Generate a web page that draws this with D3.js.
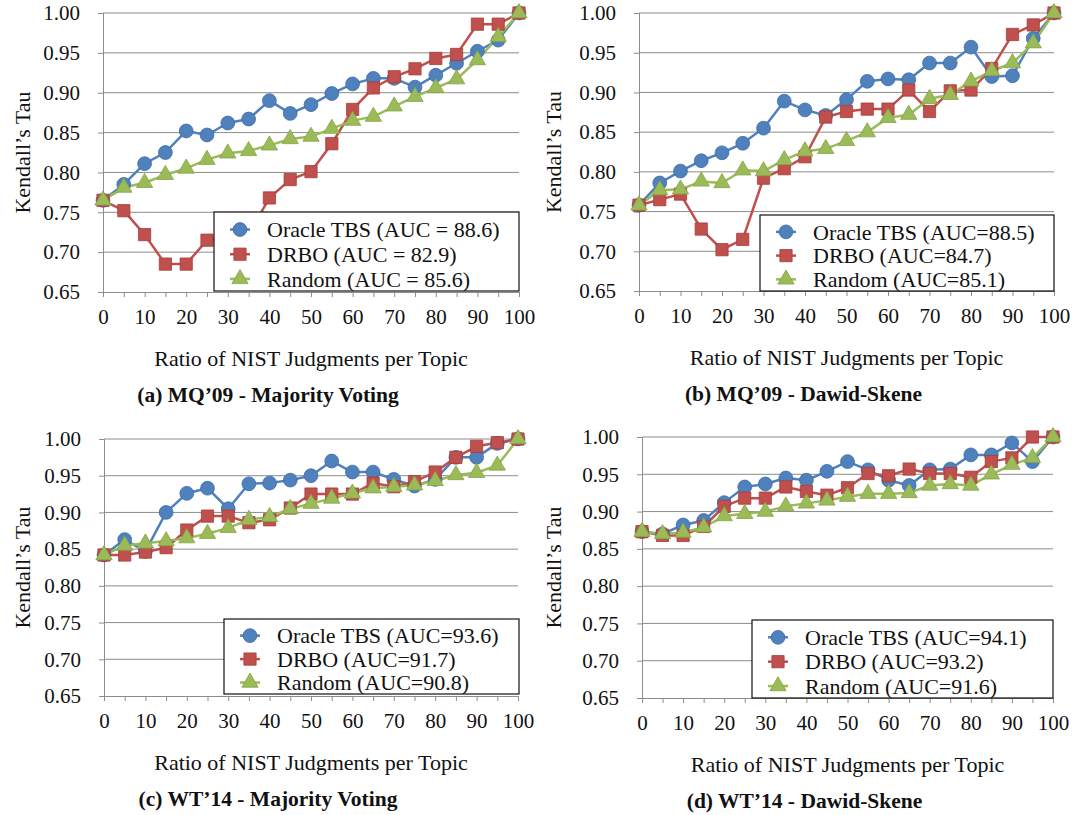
<!DOCTYPE html>
<html>
<head>
<meta charset="utf-8">
<script src="https://cdn.jsdelivr.net/npm/d3@7"></script>
<style>
  body { margin: 0; background: #fff; }
  svg text { font-family: "Liberation Serif", "Times New Roman", serif; fill: #111; }
</style>
</head>
<body>
<div id="chart"></div>
<script>
// x categories: ratio of NIST judgments per topic
var ratios = [0, 5, 10, 15, 20, 25, 30, 35, 40, 45, 50, 55, 60, 65, 70, 75, 80, 85, 90, 95, 100];
var xTickValues = [0, 10, 20, 30, 40, 50, 60, 70, 80, 90, 100];
var yTickValues = [0.65, 0.70, 0.75, 0.80, 0.85, 0.90, 0.95, 1.00];

// (a) MQ'09 - Majority Voting
var mqMvOracle = [0.765, 0.785, 0.811, 0.825, 0.852, 0.847, 0.862, 0.867, 0.890, 0.874, 0.885, 0.899, 0.911, 0.918, 0.918, 0.907, 0.922, 0.937, 0.952, 0.966, 1.000];
var mqMvDrbo   = [0.765, 0.752, 0.722, 0.685, 0.685, 0.715, 0.718, 0.722, 0.768, 0.791, 0.801, 0.836, 0.879, 0.906, 0.920, 0.930, 0.943, 0.948, 0.986, 0.986, 1.000];
var mqMvRandom = [0.765, 0.781, 0.787, 0.797, 0.805, 0.816, 0.824, 0.827, 0.834, 0.842, 0.845, 0.855, 0.865, 0.870, 0.883, 0.895, 0.906, 0.917, 0.941, 0.970, 1.000];

// (b) MQ'09 - Dawid-Skene
var mqDsOracle = [0.758, 0.786, 0.801, 0.814, 0.824, 0.836, 0.855, 0.889, 0.878, 0.871, 0.891, 0.914, 0.917, 0.916, 0.937, 0.937, 0.957, 0.920, 0.921, 0.968, 1.000];
var mqDsDrbo   = [0.758, 0.765, 0.772, 0.728, 0.702, 0.715, 0.792, 0.804, 0.819, 0.869, 0.876, 0.879, 0.879, 0.903, 0.876, 0.902, 0.903, 0.930, 0.973, 0.985, 1.000];
var mqDsRandom = [0.758, 0.777, 0.778, 0.788, 0.786, 0.802, 0.801, 0.815, 0.826, 0.829, 0.839, 0.850, 0.868, 0.872, 0.892, 0.897, 0.914, 0.927, 0.937, 0.962, 1.000];

// (c) WT'14 - Majority Voting
var wtMvOracle = [0.842, 0.863, 0.847, 0.900, 0.926, 0.933, 0.905, 0.939, 0.940, 0.944, 0.950, 0.970, 0.955, 0.955, 0.945, 0.936, 0.945, 0.975, 0.975, 0.994, 1.000];
var wtMvDrbo   = [0.842, 0.842, 0.846, 0.852, 0.876, 0.895, 0.895, 0.886, 0.890, 0.906, 0.925, 0.925, 0.925, 0.940, 0.935, 0.942, 0.955, 0.975, 0.990, 0.995, 1.000];
var wtMvRandom = [0.842, 0.855, 0.858, 0.861, 0.865, 0.871, 0.879, 0.890, 0.894, 0.905, 0.912, 0.919, 0.926, 0.933, 0.935, 0.937, 0.943, 0.951, 0.954, 0.964, 1.000];

// (d) WT'14 - Dawid-Skene
var wtDsOracle = [0.873, 0.870, 0.882, 0.888, 0.912, 0.933, 0.937, 0.945, 0.942, 0.954, 0.967, 0.956, 0.942, 0.935, 0.956, 0.957, 0.976, 0.976, 0.992, 0.967, 1.000];
var wtDsDrbo   = [0.873, 0.868, 0.868, 0.880, 0.907, 0.918, 0.918, 0.933, 0.927, 0.922, 0.932, 0.951, 0.948, 0.957, 0.951, 0.951, 0.946, 0.967, 0.972, 1.000, 1.000];
var wtDsRandom = [0.873, 0.870, 0.872, 0.879, 0.894, 0.897, 0.900, 0.907, 0.911, 0.915, 0.920, 0.924, 0.924, 0.925, 0.935, 0.937, 0.935, 0.950, 0.963, 0.972, 1.000];

var seriesNames = ["Oracle TBS", "DRBO", "Random"];
var seriesColors = ["#4F81BD", "#C0504D", "#9BBB59"];
var seriesStrokes = ["#3C6BA5", "#A43D3A", "#85A345"];
var seriesSymbols = [d3.symbolCircle, d3.symbolSquare, d3.symbolTriangle];
var symbolSizes = [150, 150, 115];

var panels = [
    { left: 103, right: 519, top: 13, bottom: 292, yLabelX: 22, caption: "(a) MQ\u201909 - Majority Voting",
      series: [mqMvOracle, mqMvDrbo, mqMvRandom], auc: ["AUC = 88.6", "AUC = 82.9", "AUC = 85.6"],
      legend: { x: 214, y: 212, w: 305, h: 79 } },
    { left: 639, right: 1054, top: 13, bottom: 291, yLabelX: 553, caption: "(b) MQ\u201909 - Dawid-Skene",
      series: [mqDsOracle, mqDsDrbo, mqDsRandom], auc: ["AUC=88.5", "AUC=84.7", "AUC=85.1"],
      legend: { x: 760, y: 215, w: 294, h: 76 } },
    { left: 104, right: 518, top: 439, bottom: 696, yLabelX: 22, caption: "(c) WT\u201914 - Majority Voting",
      series: [wtMvOracle, wtMvDrbo, wtMvRandom], auc: ["AUC=93.6", "AUC=91.7", "AUC=90.8"],
      legend: { x: 224, y: 619, w: 295, h: 75 } },
    { left: 642, right: 1053, top: 437, bottom: 698, yLabelX: 553, caption: "(d) WT\u201914 - Dawid-Skene",
      series: [wtDsOracle, wtDsDrbo, wtDsRandom], auc: ["AUC=94.1", "AUC=93.2", "AUC=91.6"],
      legend: { x: 752, y: 620, w: 301, h: 78 } }
];

var svg = d3.select("#chart")
    .append("svg")
    .attr("width", 1075)
    .attr("height", 815);

panels.forEach(function(p) {
    var x = d3.scaleLinear().domain([0, 100]).range([p.left, p.right]);
    var y = d3.scaleLinear().domain([0.65, 1.00]).range([p.bottom, p.top]);
    var g = svg.append("g");

    // horizontal gridlines
    g.selectAll("line.grid")
        .data(yTickValues.slice(1))
        .enter()
        .append("line")
        .attr("x1", p.left).attr("x2", p.right)
        .attr("y1", d => y(d)).attr("y2", d => y(d))
        .attr("stroke", "#8c8c8c")
        .attr("stroke-width", 1);

    // y axis
    var yAxis = g.append("g")
        .attr("transform", `translate(${p.left},0)`)
        .call(d3.axisLeft(y).tickValues(yTickValues).tickFormat(d3.format(".2f")).tickSize(5).tickPadding(18));
    yAxis.select(".domain").attr("stroke", "#8c8c8c");
    yAxis.selectAll(".tick line").attr("stroke", "#8c8c8c");
    yAxis.selectAll(".tick text").attr("font-size", "21px").attr("fill", "#111");

    // x axis: tick marks at every category, labels every 10
    var xAxis = g.append("g")
        .attr("transform", `translate(0,${p.bottom})`)
        .call(d3.axisBottom(x).tickValues(ratios).tickSize(5).tickPadding(12)
            .tickFormat(d => xTickValues.indexOf(d) >= 0 ? d : ""));
    xAxis.select(".domain").attr("stroke", "#8c8c8c");
    xAxis.selectAll(".tick line").attr("stroke", "#8c8c8c");
    xAxis.selectAll(".tick text").attr("font-size", "21px").attr("fill", "#111");

    // axis titles
    g.append("text")
        .attr("transform", `translate(${p.yLabelX},${(p.top + p.bottom) / 2}) rotate(-90)`)
        .attr("text-anchor", "middle")
        .attr("dy", "0.35em")
        .attr("font-size", "22px")
        .text("Kendall\u2019s Tau");

    g.append("text")
        .attr("x", (p.left + p.right) / 2)
        .attr("y", p.bottom + 66)
        .attr("text-anchor", "middle")
        .attr("dy", "0.35em")
        .attr("font-size", "22px")
        .text("Ratio of NIST Judgments per Topic");

    g.append("text")
        .attr("x", (p.left + p.right) / 2 - 43)
        .attr("y", p.bottom + 102)
        .attr("text-anchor", "middle")
        .attr("dy", "0.35em")
        .attr("font-size", "21.5px")
        .attr("font-weight", "bold")
        .text(p.caption);

    // lines + markers
    var line = d3.line()
        .x((d, i) => x(ratios[i]))
        .y(d => y(d));

    p.series.forEach(function(values, s) {
        g.append("path")
            .datum(values)
            .attr("d", line)
            .attr("fill", "none")
            .attr("stroke", seriesColors[s])
            .attr("stroke-width", 2.5)
            .attr("stroke-linejoin", "round");
    });
    p.series.forEach(function(values, s) {
        g.selectAll("path.mark" + s)
            .data(values)
            .enter()
            .append("path")
            .attr("d", d3.symbol().type(seriesSymbols[s]).size(symbolSizes[s]))
            .attr("transform", (d, i) => `translate(${x(ratios[i])},${y(d)})`)
            .attr("fill", seriesColors[s])
            .attr("stroke", seriesStrokes[s])
            .attr("stroke-width", 0.8);
    });

    // legend
    var lg = g.append("g").attr("transform", `translate(${p.legend.x},${p.legend.y})`);
    lg.append("rect")
        .attr("width", p.legend.w)
        .attr("height", p.legend.h)
        .attr("fill", "#fff")
        .attr("stroke", "#111")
        .attr("stroke-width", 1.2);
    var rowH = p.legend.h / 3.2;
    seriesNames.forEach(function(name, s) {
        var ry = p.legend.h * 0.05 + rowH * (s + 0.55);
        lg.append("line")
            .attr("x1", 16).attr("x2", 36)
            .attr("y1", ry).attr("y2", ry)
            .attr("stroke", seriesColors[s])
            .attr("stroke-width", 2.5);
        lg.append("path")
            .attr("d", d3.symbol().type(seriesSymbols[s]).size(symbolSizes[s]))
            .attr("transform", `translate(26,${ry})`)
            .attr("fill", seriesColors[s])
            .attr("stroke", seriesStrokes[s])
            .attr("stroke-width", 0.8);
        lg.append("text")
            .attr("x", 53)
            .attr("y", ry)
            .attr("dy", "0.35em")
            .attr("font-size", "22px")
            .text(name + " (" + p.auc[s] + ")");
    });
});
</script>
</body>
</html>
